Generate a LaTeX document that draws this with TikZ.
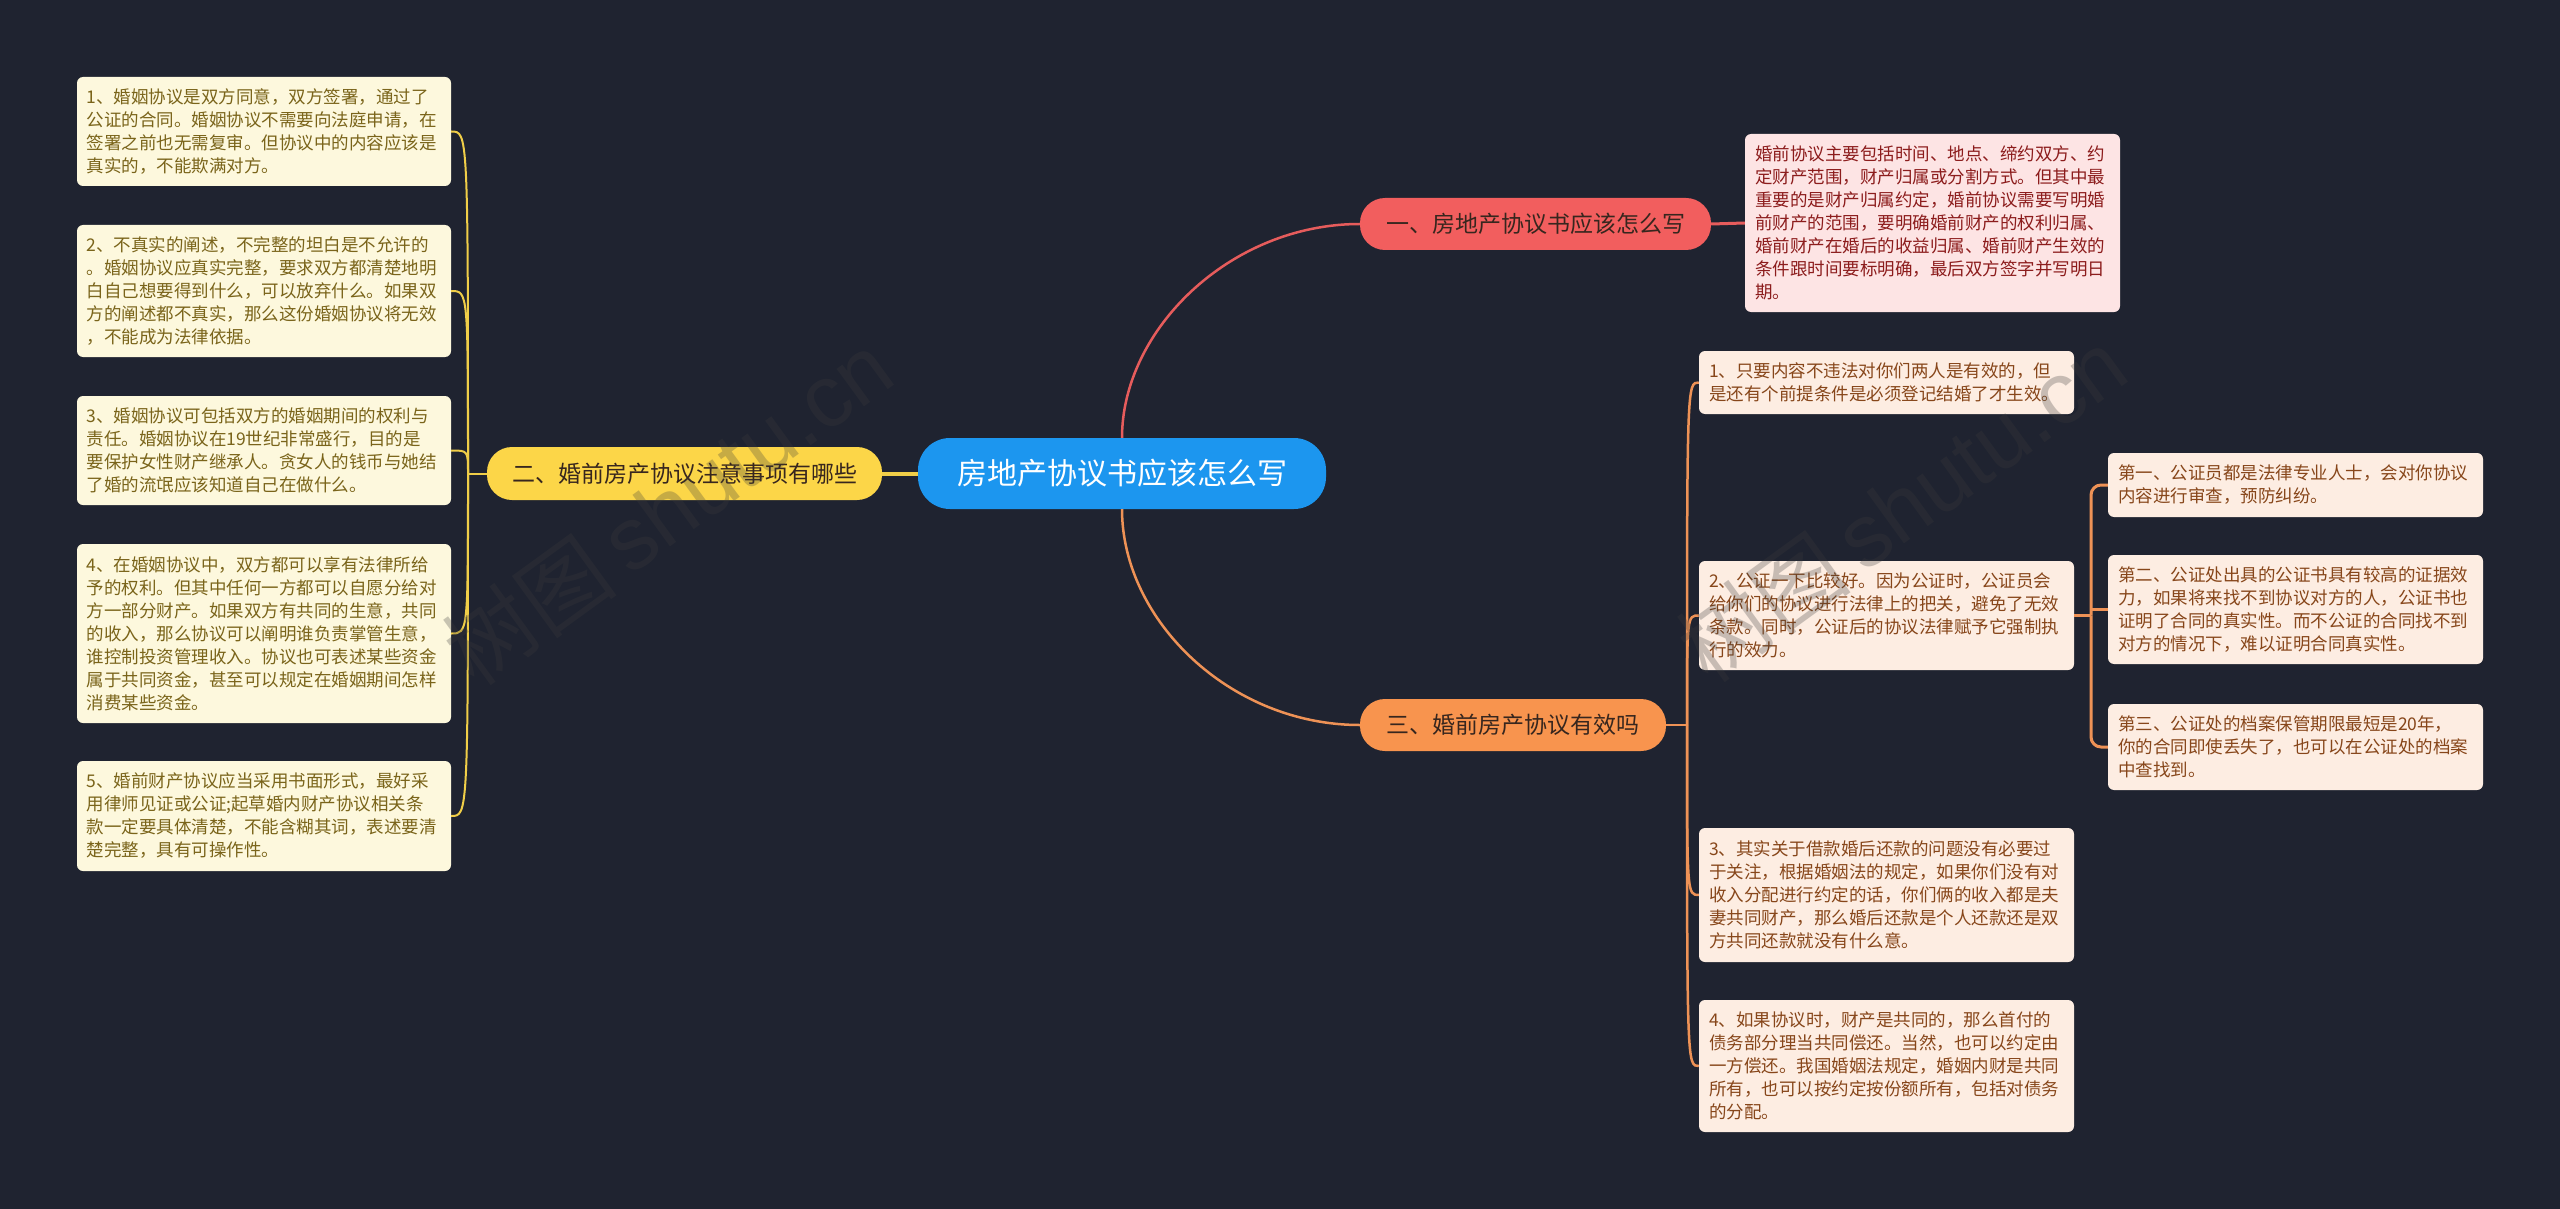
\documentclass[tikz,border=0pt]{standalone}
\usepackage{fontspec}
\setmainfont{Noto Sans CJK SC}
\newfontfamily\wmfont{Liberation Sans}
\definecolor{bg}{RGB}{31,35,48}
\definecolor{cblue}{RGB}{28,150,239}
\definecolor{cred}{RGB}{242,94,94}
\definecolor{cyel}{RGB}{252,214,72}
\definecolor{cora}{RGB}{248,148,78}
\definecolor{lred}{RGB}{230,92,92}
\definecolor{lyel}{RGB}{240,206,72}
\definecolor{lora}{RGB}{238,146,86}
\definecolor{fred}{RGB}{253,228,228}
\definecolor{fyel}{RGB}{253,248,221}
\definecolor{fora}{RGB}{253,237,226}
\definecolor{tred}{RGB}{140,28,28}
\definecolor{tyel}{RGB}{122,100,26}
\definecolor{tora}{RGB}{135,70,26}
\definecolor{tdark}{RGB}{55,38,30}
\definecolor{wm}{RGB}{60,60,60}
\tikzset{
  pill/.style={rectangle, rounded corners=25pt, inner sep=0pt, align=center,
    font=\fontsize{23}{28}\selectfont, text=tdark},
  leafbox/.style={rectangle, rounded corners=6pt, inner sep=0pt, align=left,
    minimum width=375pt, text width=355pt,
    font=\fontsize{17.5}{23}\selectfont},
  yleaf/.style={leafbox, fill=fyel, text=tyel},
  rleaf/.style={leafbox, fill=fred, text=tred},
  oleaf/.style={leafbox, fill=fora, text=tora},
  yline/.style={draw=lyel, line width=2pt},
  oline/.style={draw=lora, line width=2.5pt},
  wmark/.style={text=wm, opacity=0.28, rotate=36, font=\fontsize{88}{90}\selectfont}
}
\begin{document}
\begin{tikzpicture}[x=1pt, y=-1pt]
\fill[bg] (0,0) rectangle (2560,1209);
\useasboundingbox (0,0) rectangle (2560,1209);

% main nodes
\node[rectangle, rounded corners=32pt, fill=cblue, text=white, minimum width=408pt, minimum height=71pt,
  font=\fontsize{30}{34}\selectfont] (root) at (1122,473.5) {房地产协议书应该怎么写};
\node[pill, fill=cred, minimum width=351pt, minimum height=52pt] (b1) at (1535.5,224) {一、房地产协议书应该怎么写};
\node[pill, fill=cyel, minimum width=395pt, minimum height=53pt] (b2) at (684.5,473.5) {二、婚前房产协议注意事项有哪些};
\node[pill, fill=cora, minimum width=306pt, minimum height=52pt] (b3) at (1513,725) {三、婚前房产协议有效吗};

% red leaf
\node[rleaf, minimum height=178pt] (r0) at (1932.5,223) {婚前协议主要包括时间、地点、缔约双方、约\\
定财产范围，财产归属或分割方式。但其中最\\
重要的是财产归属约定，婚前协议需要写明婚\\
前财产的范围，要明确婚前财产的权利归属、\\
婚前财产在婚后的收益归属、婚前财产生效的\\
条件跟时间要标明确，最后双方签字并写明日\\
期。};

% yellow leaves
\node[yleaf, minimum width=374pt, minimum height=109pt] (l1) at (264,131.5) {1、婚姻协议是双方同意，双方签署，通过了\\
公证的合同。婚姻协议不需要向法庭申请，在\\
签署之前也无需复审。但协议中的内容应该是\\
真实的，不能欺满对方。};
\node[yleaf, minimum width=374pt, minimum height=132pt] (l2) at (264,291) {2、不真实的阐述，不完整的坦白是不允许的\\
。婚姻协议应真实完整，要求双方都清楚地明\\
白自己想要得到什么，可以放弃什么。如果双\\
方的阐述都不真实，那么这份婚姻协议将无效\\
，不能成为法律依据。};
\node[yleaf, minimum width=374pt, minimum height=109pt] (l3) at (264,450.5) {3、婚姻协议可包括双方的婚姻期间的权利与\\
责任。婚姻协议在19世纪非常盛行，目的是\\
要保护女性财产继承人。贪女人的钱币与她结\\
了婚的流氓应该知道自己在做什么。};
\node[yleaf, minimum width=374pt, minimum height=179pt] (l4) at (264,633.5) {4、在婚姻协议中，双方都可以享有法律所给\\
予的权利。但其中任何一方都可以自愿分给对\\
方一部分财产。如果双方有共同的生意，共同\\
的收入，那么协议可以阐明谁负责掌管生意，\\
谁控制投资管理收入。协议也可表述某些资金\\
属于共同资金，甚至可以规定在婚姻期间怎样\\
消费某些资金。};
\node[yleaf, minimum width=374pt, minimum height=110pt] (l5) at (264,816) {5、婚前财产协议应当采用书面形式，最好采\\
用律师见证或公证;起草婚内财产协议相关条\\
款一定要具体清楚，不能含糊其词，表述要清\\
楚完整，具有可操作性。};

% orange leaves
\node[oleaf, minimum height=63pt] (o1) at (1886.5,382.5) {1、只要内容不违法对你们两人是有效的，但\\
是还有个前提条件是必须登记结婚了才生效。};
\node[oleaf, minimum height=109pt] (o2) at (1886.5,615.5) {2、公证一下比较好。因为公证时，公证员会\\
给你们的协议进行法律上的把关，避免了无效\\
条款。同时，公证后的协议法律赋予它强制执\\
行的效力。};
\node[oleaf, minimum height=134pt] (o3) at (1886.5,895) {3、其实关于借款婚后还款的问题没有必要过\\
于关注，根据婚姻法的规定，如果你们没有对\\
收入分配进行约定的话，你们俩的收入都是夫\\
妻共同财产，那么婚后还款是个人还款还是双\\
方共同还款就没有什么意。};
\node[oleaf, minimum height=132pt] (o4) at (1886.5,1066) {4、如果协议时，财产是共同的，那么首付的\\
债务部分理当共同偿还。当然，也可以约定由\\
一方偿还。我国婚姻法规定，婚姻内财是共同\\
所有，也可以按约定按份额所有，包括对债务\\
的分配。};

% sub leaves
\node[oleaf, minimum height=64pt] (s1) at (2295.5,485) {第一、公证员都是法律专业人士，会对你协议\\
内容进行审查，预防纠纷。};
\node[oleaf, minimum height=109pt] (s2) at (2295.5,609.5) {第二、公证处出具的公证书具有较高的证据效\\
力，如果将来找不到协议对方的人，公证书也\\
证明了合同的真实性。而不公证的合同找不到\\
对方的情况下，难以证明合同真实性。};
\node[oleaf, minimum height=86pt] (s3) at (2295.5,747) {第三、公证处的档案保管期限最短是20年，\\
你的合同即使丢失了，也可以在公证处的档案\\
中查找到。};

% main connectors
\draw[draw=lred, line width=2.5pt] (root.north) .. controls (1122,330) and (1230,224) .. (b1.west);
\draw[draw=lora, line width=2.5pt] (root.south) .. controls (1122,620) and (1230,725) .. (b3.west);
\draw[draw=lyel, line width=4pt] (root.west) -- (b2.east);
\draw[draw=lred, line width=3pt] (b1.east) -- (r0.west);

% yellow branch
\coordinate (yt) at (468,473.5);
\draw[yline] (b2.west) -- (yt);
\foreach \n in {l1,l2,l3,l4,l5}{
  \draw[yline] (yt) .. controls (yt |- \n.east) .. (\n.east);
}

% orange branch
\coordinate (ot) at (1687,725);
\draw[oline] (b3.east) -- (ot);
\foreach \n in {o1,o2,o3,o4}{
  \draw[oline] (ot) .. controls (ot |- \n.west) .. (\n.west);
}

% sub branch
\coordinate (st) at (2091,615.5);
\draw[draw=lora, line width=3pt] (o2.east) -- (st);
\draw[draw=lora, line width=3pt, rounded corners=10pt] (st) |- (s1.west);
\draw[draw=lora, line width=3pt, rounded corners=10pt] (st) |- (s3.west);
\draw[draw=lora, line width=3pt] (st |- s2.west) -- (s2.west);

% watermarks
\node[wmark] (wm1) at (668,508) {树图\,{\wmfont shutu.cn}};
\node[wmark] (wm2) at (1902,505) {树图\,{\wmfont shutu.cn}};
\end{tikzpicture}
\end{document}
